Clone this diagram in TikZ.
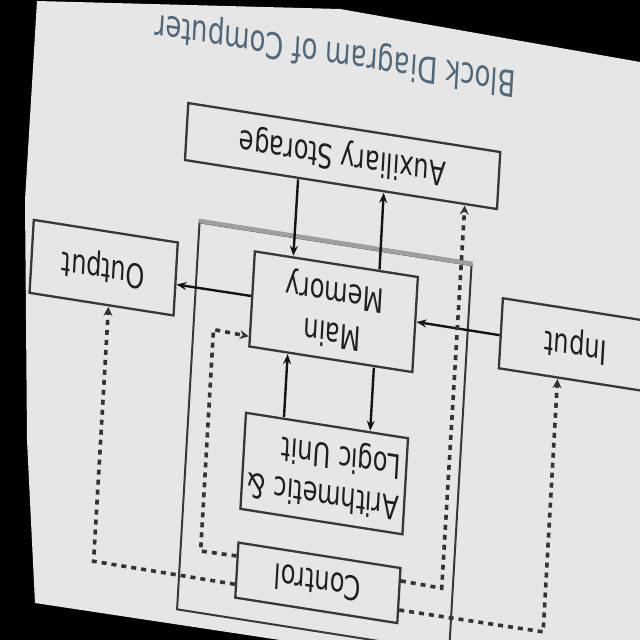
\documentclass[tikz,border=0pt]{standalone}
\usepackage{fontspec}
\setmainfont{DejaVu Sans}
\usetikzlibrary{arrows.meta,calc}
\definecolor{paper}{HTML}{E6E6E6}
\definecolor{ink}{HTML}{383838}
\definecolor{titleink}{HTML}{51687A}
\begin{document}
\begin{tikzpicture}[x=1pt,y=-1pt]
\useasboundingbox (0,0) rectangle (640,640);
\fill[black] (0,0) rectangle (640,640);
\fill[paper] (37,1) -- (340,9) -- (640,62) -- (640,640) -- (280,640) -- (35,603) -- (27,440) -- (25,200) -- cycle;
\begin{scope}[x=1pt,y=0.714286pt,cm={-1,0.157,-0.0812,-1.4,(320pt,-320pt)},transform shape,
  box/.style={draw=ink,line width=2.3pt,inner sep=0pt,text=black!88,font=\fontsize{24}{29}\selectfont},
  frame/.style={draw=ink,line width=2pt,inner sep=0pt},
  titlestyle/.style={inner sep=0pt,text=titleink,font=\fontsize{26}{30}\selectfont},
  conn/.style={draw=black!92,line width=2.4pt,-{Stealth[length=10pt,width=8pt]}},
  ctl/.style={draw=black!80,line width=3.6pt,dash pattern=on 5pt off 5pt,-{Stealth[length=9pt,width=9pt]}}]
\node[frame,minimum width=272pt,minimum height=276.4pt] (cpu) at (-11,115.5) {};
\draw[line width=4.5pt,draw=gray!75] (cpu.south west) -- (cpu.south east);
\node[box,minimum width=312pt,minimum height=40.7pt] (aux) at (-13,-166) {Auxiliary Storage};
\node[box,minimum width=163pt,minimum height=67.9pt,align=center] (mm) at (-13,-10.3) {Main\\Memory};
\node[box,minimum width=162pt,minimum height=68.6pt,align=left] (alu) at (-13,151.5) {Arithmetic \&\\Logic Unit};
\node[box,minimum width=162pt,minimum height=39.3pt] (ctrl) at (-13,260.8) {Control};
\node[box,minimum width=144pt,minimum height=52.1pt] (out) at (217.4,-18.2) {Output};
\node[box,minimum width=150pt,minimum height=50pt] (in) at (-255,-15) {Input};
\node[titlestyle] (title) at (0,-267) {Block Diagram of Computer};
% data paths
\draw[conn] ($(aux.north west)!0.6362!(aux.north east)$) -- ($(mm.south west)!0.7607!(mm.south east)$);
\draw[conn] ($(mm.south west)!0.2393!(mm.south east)$) -- ($(aux.north west)!0.3638!(aux.north east)$);
\draw[conn] ($(alu.south west)!0.7623!(alu.south east)$) -- ($(mm.north west)!0.7607!(mm.north east)$);
\draw[conn] ($(mm.north west)!0.2393!(mm.north east)$) -- ($(alu.south west)!0.2377!(alu.south east)$);
\draw[conn] ($(mm.south east)!0.4716!(mm.north east)$) -- ($(out.south west)!0.571!(out.north west)$);
\draw[conn] ($(in.south east)!0.5286!(in.north east)$) -- ($(mm.south west)!0.4716!(mm.north west)$);
% control paths
\coordinate (k1) at (105,247.5);
\coordinate (k2) at (105,26);
\coordinate (k3) at (-136,246.8);
\coordinate (k4) at (210.5,274.3);
\coordinate (k5) at (-239,274.3);
\draw[ctl] ($(ctrl.south east)!0.258!(ctrl.north east)$) -- (k1) -- (k2) -- ($(mm.south east)!0.882!(mm.north east)$);
\draw[ctl] ($(ctrl.south west)!0.245!(ctrl.north west)$) -- (k3) -- ($(aux.north west)!0.106!(aux.north east)$);
\draw[ctl] ($(ctrl.south east)!0.745!(ctrl.north east)$) -- (k4) -- ($(out.north west)!0.452!(out.north east)$);
\draw[ctl] ($(ctrl.south west)!0.745!(ctrl.north west)$) -- (k5) -- ($(in.north west)!0.607!(in.north east)$);
\end{scope}
\end{tikzpicture}
\end{document}
